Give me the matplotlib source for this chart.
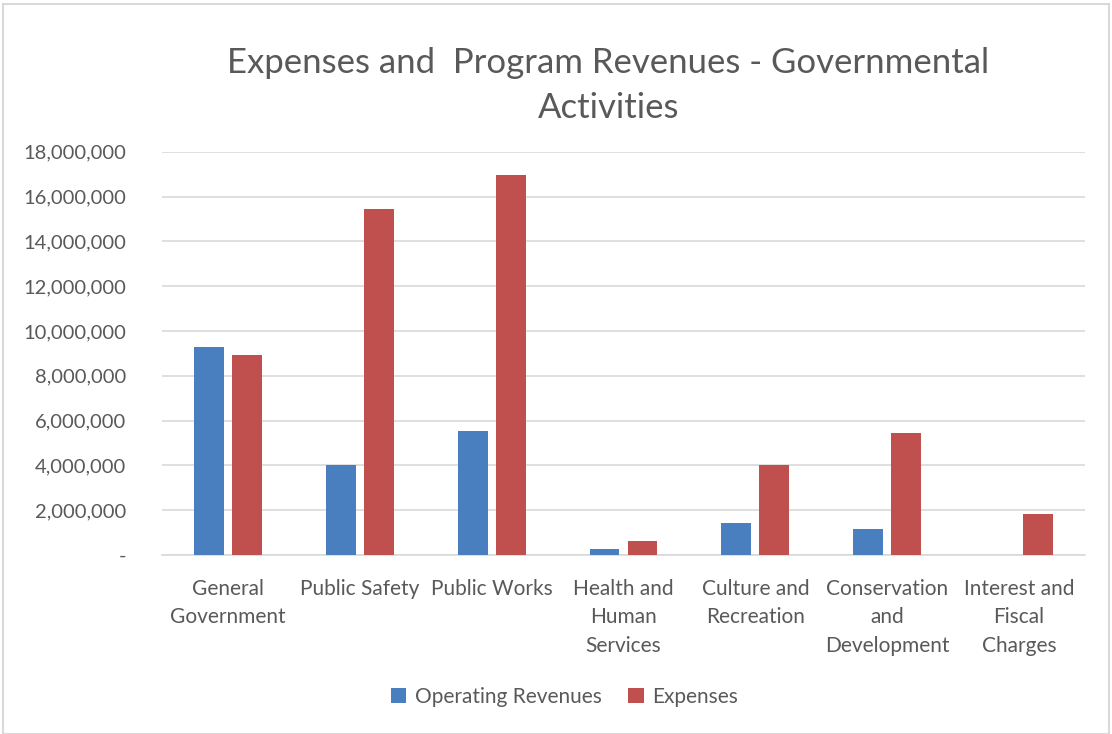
import matplotlib.pyplot as plt
import numpy as np
from matplotlib.patches import Rectangle
from matplotlib.ticker import FuncFormatter

categories = ["General\nGovernment", "Public Safety", "Public Works",
              "Health and\nHuman\nServices", "Culture and\nRecreation",
              "Conservation\nand\nDevelopment", "Interest and\nFiscal\nCharges"]
operating_revenues = [9_290_000, 4_020_000, 5_540_000, 270_000, 1_440_000, 1_160_000, 0]
expenses = [8_930_000, 15_450_000, 16_960_000, 640_000, 4_020_000, 5_460_000, 1_820_000]

plt.rcParams['font.family'] = ['Lato', 'DejaVu Sans']
text_color = '#595959'

fig = plt.figure(figsize=(11.12, 7.34), dpi=100)
ax = fig.add_axes([0.1457, 0.2439, 0.83, 0.5494])

x = np.arange(len(categories))
width = 0.227
offset = 0.144
ax.bar(x - offset, operating_revenues, width, color='#4A7FBF', label='Operating Revenues', zorder=3)
ax.bar(x + offset, expenses, width, color='#C0504D', label='Expenses', zorder=3)

ax.set_xlim(-0.5, len(categories) - 0.5)
ax.set_ylim(0, 18_000_000)
ax.set_yticks(np.arange(0, 18_000_001, 2_000_000))
ax.yaxis.set_major_formatter(FuncFormatter(lambda v, p: '-' if v == 0 else f"{int(v):,}"))
ax.grid(axis='y', color='#D9D9D9', linewidth=1.2, zorder=0)

ax.set_xticks(x)
ax.set_xticklabels(categories, fontsize=15, color=text_color, linespacing=1.55, va='top')
ax.tick_params(axis='x', length=0, pad=17)
ax.tick_params(axis='y', length=0, pad=26, labelsize=14.5, labelcolor=text_color)

for side in ['top', 'right', 'left']:
    ax.spines[side].set_visible(False)
ax.spines['bottom'].set_color('#D9D9D9')
ax.spines['bottom'].set_linewidth(1.2)

fig.text(0.547, 0.884, "Expenses and  Program Revenues - Governmental\nActivities",
         ha='center', va='center', fontsize=25, color=text_color, linespacing=1.5)

ax.legend(loc='center', bbox_to_anchor=(0.436, -0.352), ncol=2, frameon=False,
          fontsize=15, labelcolor=text_color, handlelength=0.75, handleheight=0.75,
          handletextpad=0.4, columnspacing=1.3)

fig.patches.append(Rectangle((0.003, 0.0), 0.994, 0.995, transform=fig.transFigure,
                             fill=False, edgecolor='#D9D9D9', linewidth=1.5))

plt.savefig('out.png', dpi=100)
